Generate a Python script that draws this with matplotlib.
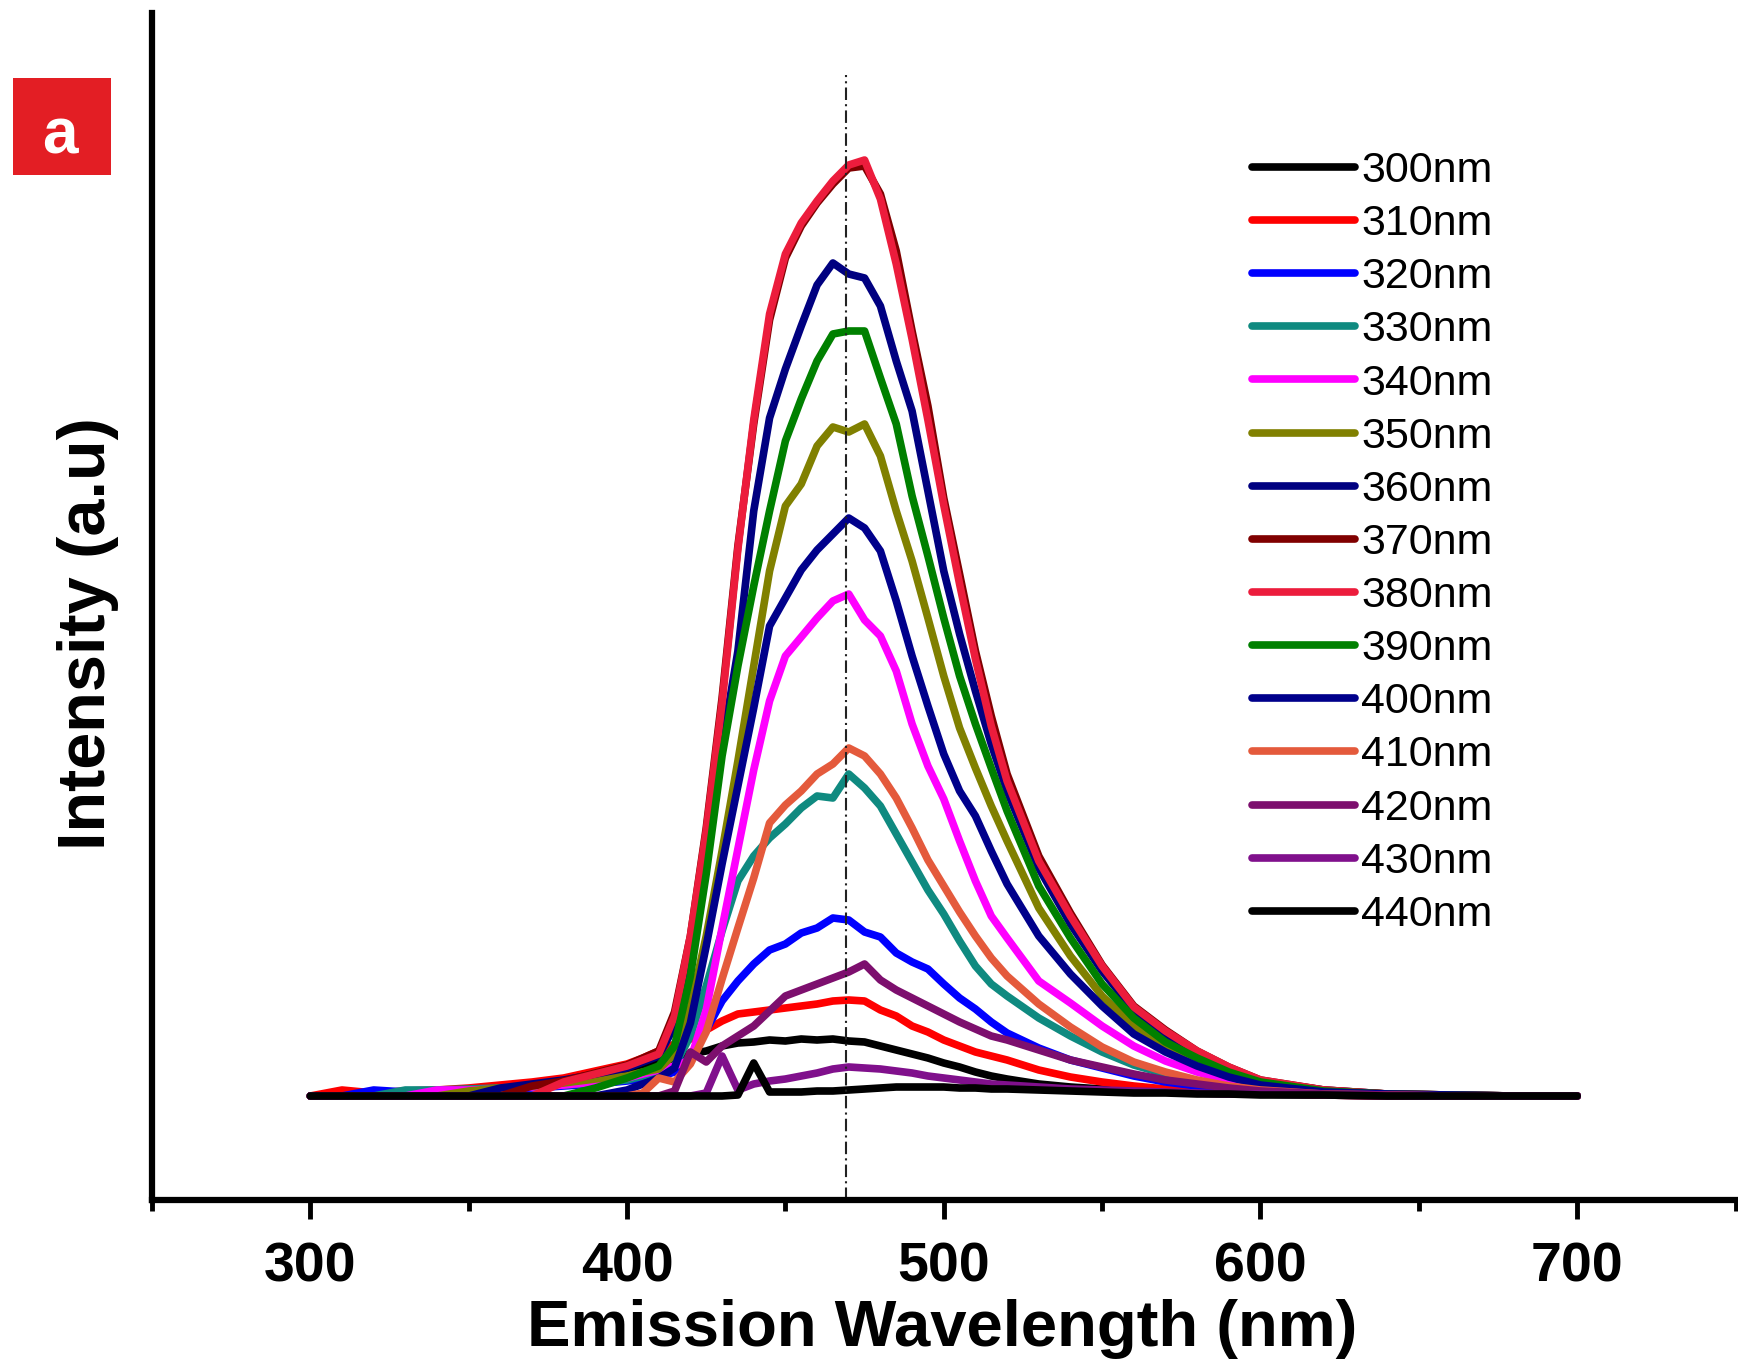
import matplotlib
matplotlib.use("Agg")
import matplotlib.pyplot as plt
import numpy as np
from matplotlib.patches import Rectangle

plt.rcParams['font.family'] = ['Liberation Sans', 'DejaVu Sans']

# ---------------- data ----------------
wavelength = [300, 310, 320, 330, 340, 350, 360, 370, 380, 390,
              400, 405, 410, 415, 420, 425, 430, 435, 440, 445,
              450, 455, 460, 465, 470, 475, 480, 485, 490, 495,
              500, 505, 510, 515, 520, 530, 540, 550, 560, 570,
              580, 590, 600, 620, 640, 660, 680, 700]

excitation = ['300nm', '310nm', '320nm', '330nm', '340nm', '350nm', '360nm',
              '370nm', '380nm', '390nm', '400nm', '410nm', '420nm', '430nm', '440nm']

I300 = [0, 1, 2, 3, 4, 6, 8, 11, 14, 19, 24, 28, 33, 38, 42, 45, 50, 53, 54, 56,
        55, 57, 56, 57, 55, 54, 50, 46, 42, 38, 33, 29, 24, 20, 17, 12, 9, 7, 5, 4,
        3, 2, 2, 1, 0, 0, 0, 0]
I310 = [0, 6, 3, 5, 6, 8, 11, 14, 18, 25, 32, 38, 45, 52, 57, 66, 75, 82, 84, 86,
        88, 90, 92, 95, 96, 95, 86, 80, 70, 64, 56, 50, 44, 40, 36, 26, 19, 14, 10, 7,
        5, 4, 3, 1, 0, 0, 0, 0]
I320 = [0, 0, 6, 4, 5, 6, 7, 8, 10, 12, 15, 17, 19, 24, 40, 66, 95, 115, 132, 146,
        152, 163, 168, 178, 176, 164, 159, 143, 134, 127, 112, 98, 87, 74, 63, 48, 36, 28, 20, 14,
        10, 6, 4, 2, 1, 0, 0, 0]
I330 = [0, 0, 0, 6, 6, 7, 8, 9, 11, 13, 16, 20, 24, 30, 60, 110, 165, 215, 240, 258,
        272, 288, 300, 298, 322, 308, 290, 262, 234, 206, 182, 155, 130, 112, 100, 78, 60, 44, 31, 22,
        15, 10, 6, 2, 1, 0, 0, 0]
I340 = [0, 0, 0, 0, 6, 6, 7, 9, 11, 14, 18, 22, 26, 30, 36, 86, 168, 247, 326, 395,
        440, 459, 478, 495, 502, 476, 460, 425, 372, 330, 297, 255, 215, 180, 158, 115, 93, 70, 50, 35,
        24, 15, 9, 3, 1, 0, 0, 0]
I350 = [0, 0, 0, 0, 0, 5, 8, 10, 13, 17, 20, 24, 27, 42, 88, 160, 245, 335, 430, 525,
        590, 612, 650, 669, 664, 672, 640, 585, 535, 478, 420, 368, 328, 290, 255, 188, 140, 100, 70, 48,
        33, 21, 12, 5, 2, 1, 0, 0]
I360 = [0, 0, 0, 0, 0, 0, 8, 12, 16, 22, 28, 34, 40, 70, 140, 245, 350, 445, 585, 678,
        727, 770, 811, 833, 822, 818, 790, 735, 685, 605, 525, 462, 405, 352, 305, 228, 172, 125, 86, 60,
        42, 27, 15, 6, 2, 1, 0, 0]
I370 = [0, 0, 0, 0, 0, 0, 0, 10, 15, 23, 31, 38, 45, 84, 160, 268, 398, 550, 672, 776,
        838, 870, 893, 912, 928, 930, 902, 845, 765, 690, 598, 522, 445, 380, 322, 240, 183, 131, 90, 66,
        45, 29, 16, 6, 2, 1, 0, 0]
I380 = [0, 0, 0, 0, 0, 0, 0, 0, 14, 22, 30, 36, 42, 80, 160, 265, 393, 547, 676, 782,
        842, 873, 895, 915, 931, 936, 897, 832, 757, 676, 591, 512, 437, 370, 315, 235, 180, 130, 89, 65,
        45, 29, 16, 6, 2, 1, 0, 0]
I390 = [0, 0, 0, 0, 0, 0, 0, 0, 0, 8, 18, 24, 30, 50, 120, 222, 340, 430, 510, 585,
        655, 697, 735, 762, 765, 765, 718, 672, 600, 540, 478, 420, 372, 328, 285, 210, 158, 112, 78, 54,
        38, 24, 14, 5, 2, 1, 0, 0]
I400 = [0, 0, 0, 0, 0, 0, 0, 0, 0, 0, 6, 12, 18, 28, 73, 150, 232, 310, 388, 470,
        498, 526, 546, 562, 578, 568, 545, 495, 440, 390, 342, 305, 280, 245, 212, 160, 122, 90, 62, 44,
        30, 19, 11, 4, 2, 1, 0, 0]
I410 = [0, 0, 0, 0, 0, 0, 0, 0, 0, 0, 0, 3, 18, 14, 32, 64, 117, 168, 218, 273,
        291, 305, 322, 332, 348, 340, 322, 298, 268, 236, 210, 184, 160, 138, 120, 92, 69, 49, 34, 24,
        16, 10, 6, 2, 1, 0, 0, 0]
I420 = [0, 0, 0, 0, 0, 0, 0, 0, 0, 0, 0, 0, 0, 5, 44, 34, 50, 60, 70, 85,
        100, 106, 112, 118, 124, 132, 116, 106, 98, 90, 82, 74, 67, 60, 56, 46, 36, 29, 22, 16,
        12, 8, 5, 2, 1, 0, 0, 0]
I430 = [0, 0, 0, 0, 0, 0, 0, 0, 0, 0, 0, 0, 0, 0, 0, 3, 40, 6, 12, 15,
        17, 20, 23, 27, 29, 28, 27, 25, 23, 20, 18, 16, 14, 12, 11, 9, 7, 6, 5, 4,
        3, 2, 2, 1, 0, 0, 0, 0]
I440 = [0, 0, 0, 0, 0, 0, 0, 0, 0, 0, 0, 0, 0, 0, 0, 0, 0, 1, 33, 4,
        4, 4, 5, 5, 6, 7, 8, 9, 9, 9, 9, 8, 8, 7, 7, 6, 5, 4, 3, 3,
        2, 2, 1, 1, 0, 0, 0, 0]

intensities = [I300, I310, I320, I330, I340, I350, I360, I370,
               I380, I390, I400, I410, I420, I430, I440]

colors = ['#000000', '#FF0000', '#0000FF', '#0F8A80', '#FF00FF', '#808000', '#000080',
          '#800000', '#EC1C3C', '#008000', '#00008B', '#E45A3C', '#7D0F6E', '#80108C', '#000000']

peak_line = 469

# ---------------- figure ----------------
W, H = 1738, 1363
fig = plt.figure(figsize=(W / 100, H / 100), dpi=100)
ax = fig.add_axes([152 / W, (H - 1200) / H, 1583.5 / W, 1187 / H])

for lab, vals, c in zip(excitation, intensities, colors):
    ax.plot(wavelength, vals, color=c, lw=5.5, label=lab,
            solid_joinstyle='round', solid_capstyle='round')

ax.axvline(peak_line, ymin=0, ymax=0.948, color='#222222', lw=1.5,
           linestyle=(0, (6, 2, 1, 2)))

ax.set_xlim(250, 750)
ax.set_ylim(-104, 1083)
ax.set_xticks([300, 400, 500, 600, 700])
ax.set_xticks([250, 350, 450, 550, 650, 750], minor=True)
ax.set_yticks([])
for s in ['top', 'right']:
    ax.spines[s].set_visible(False)
for s in ['left', 'bottom']:
    ax.spines[s].set_linewidth(4.5)
ax.tick_params(axis='x', which='major', direction='out', length=14, width=3.5,
               labelsize=40, pad=16)
ax.tick_params(axis='x', which='minor', direction='out', length=8, width=3.5)
for t in ax.get_xticklabels():
    t.set_fontweight('bold')

fig.text(942 / W, (H - 1346) / H, 'Emission Wavelength (nm)', ha='center',
         va='baseline', fontsize=47, fontweight='bold')
fig.text(57 / W, 1 - 634 / H, 'Intensity (a.u)', rotation=90, ha='left',
         va='center', fontsize=48, fontweight='bold')

leg = ax.legend(loc='upper left', bbox_to_anchor=(1252 / W, (H - 151) / H),
                bbox_transform=fig.transFigure, frameon=False, fontsize=31,
                borderpad=0, borderaxespad=0, handlelength=2.4,
                handletextpad=0.14, labelspacing=0.305)
for ln in leg.get_lines():
    ln.set_linewidth(5.5)

fig.patches.append(Rectangle((13 / W, (H - 175) / H), 98 / W, 97 / H,
                             transform=fig.transFigure, facecolor='#E31E24',
                             edgecolor='none'))
fig.text(60 / W, (H - 153) / H, 'a', color='white', fontsize=46,
         fontweight='bold', ha='center', va='baseline')

fig.savefig('out.png', dpi=100)
